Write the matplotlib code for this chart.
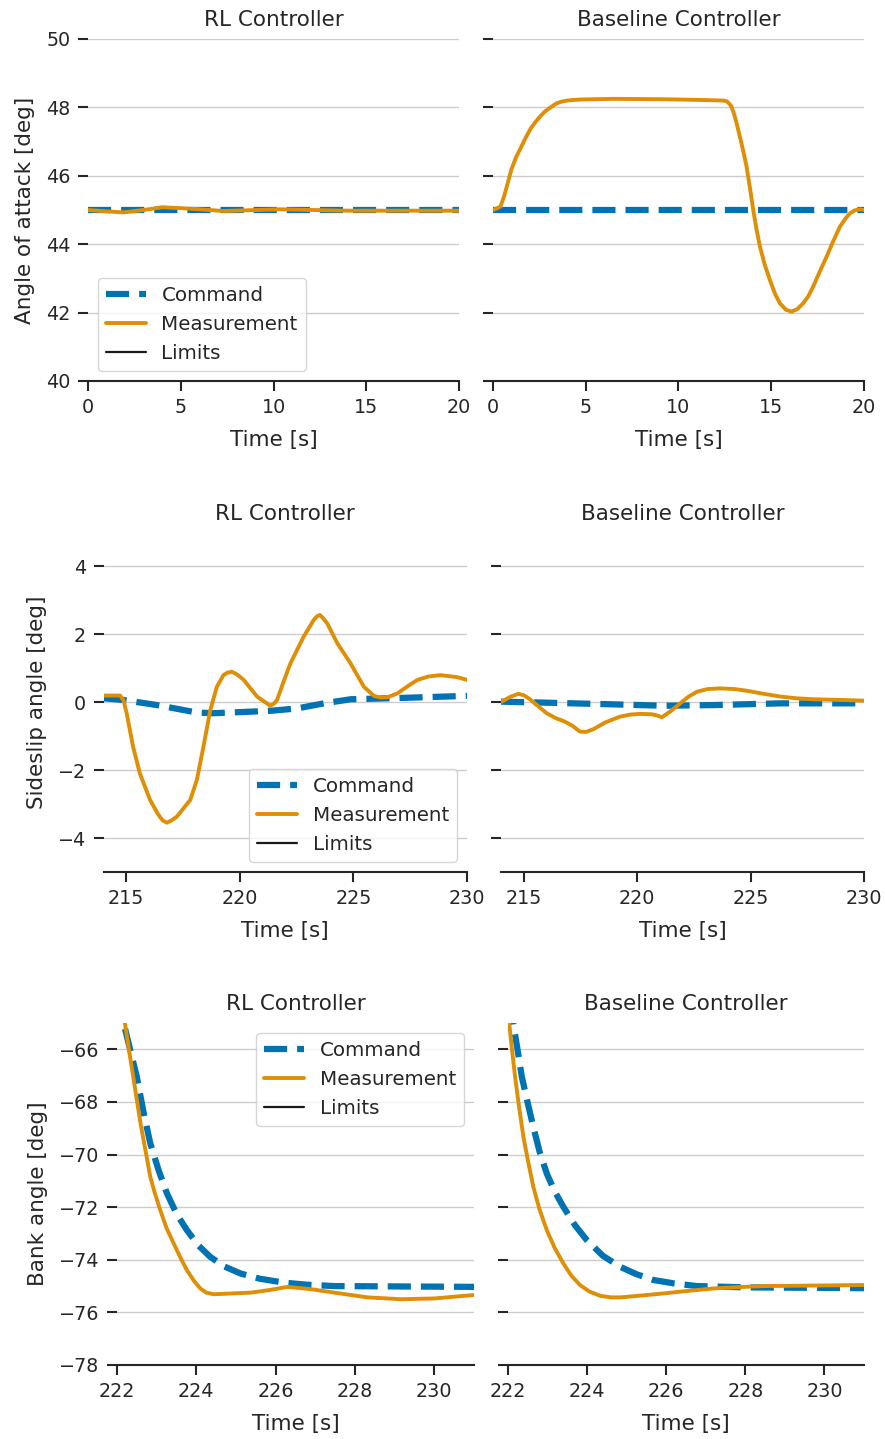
import matplotlib
matplotlib.use('Agg')
import matplotlib.pyplot as plt
import seaborn as sns

sns.set_theme(style='ticks', palette='colorblind')
plt.rcParams['font.family'] = ['DejaVu Sans']

BLUE = '#0173b2'
ORANGE = '#de8f05'
INK = '#262626'

# --- angle of attack, 0-20 s ---
aoa_cmd_t = [0.0, 20.0]
aoa_cmd = [45.0, 45.0]

aoa_rl_t = [0.0, 1.0, 1.9, 3.0, 4.0, 5.5, 7.3, 10.3, 14.0, 20.0]
aoa_rl = [45.0, 44.96, 44.93, 45.0, 45.08, 45.04, 44.97, 45.02, 44.98, 44.98]

aoa_bl_t = [0.0, 0.1, 0.4, 0.6, 0.8, 1.0, 1.25, 1.5, 1.75, 2.05, 2.3, 2.53,
            2.8, 3.1, 3.43, 3.7, 4.0, 4.4, 4.69, 6.47, 9.0, 11.0, 12.41, 12.6,
            12.75, 12.86, 13.0, 13.15, 13.31, 13.5, 13.67, 13.85, 14.03, 14.2,
            14.39, 14.65, 14.93, 15.2, 15.47, 15.8, 16.1, 16.4, 16.72, 17.0,
            17.26, 17.6, 17.98, 18.35, 18.7, 19.0, 19.24, 19.5, 19.78, 20.0]
aoa_bl = [45.0, 45.02, 45.1, 45.4, 45.8, 46.2, 46.55, 46.82, 47.1, 47.4,
          47.58, 47.73, 47.88, 48.0, 48.12, 48.17, 48.2, 48.22, 48.23, 48.25,
          48.24, 48.22, 48.2, 48.18, 48.1, 48.02, 47.8, 47.5, 47.14, 46.7,
          46.27, 45.65, 45.0, 44.45, 43.93, 43.4, 42.95, 42.55, 42.27, 42.08,
          42.03, 42.1, 42.27, 42.48, 42.76, 43.18, 43.63, 44.1, 44.51, 44.75,
          44.9, 44.99, 45.02, 45.0]

# --- sideslip, 214-230 s ---
beta_rl_cmd_t = [214.0, 214.87, 216.35, 218.11, 218.84, 221.34, 222.52, 223.7,
                 224.87, 226.64, 230.0]
beta_rl_cmd = [0.11, 0.06, -0.09, -0.31, -0.33, -0.26, -0.19, -0.04, 0.08,
               0.11, 0.18]

beta_rl_t = [214.0, 214.73, 214.88, 215.02, 215.3, 215.6, 216.05, 216.4,
             216.6, 216.79, 217.0, 217.23, 217.82, 218.11, 218.4, 218.7,
             218.99, 219.28, 219.45, 219.65, 219.9, 220.17, 220.76, 221.1,
             221.34, 221.5, 221.64, 221.9, 222.23, 222.81, 223.25, 223.4,
             223.52, 223.65, 223.85, 224.29, 224.87, 225.46, 225.9, 226.2,
             226.49, 226.93, 227.4, 227.82, 228.3, 228.84, 229.58, 230.0]
beta_rl = [0.19, 0.19, 0.05, -0.33, -1.31, -2.1, -2.88, -3.3, -3.48, -3.55,
           -3.48, -3.37, -2.88, -2.29, -1.31, -0.24, 0.45, 0.79, 0.86, 0.89,
           0.8, 0.65, 0.16, 0.0, -0.11, -0.05, 0.06, 0.55, 1.14, 1.92, 2.41,
           2.52, 2.56, 2.48, 2.31, 1.73, 1.14, 0.45, 0.18, 0.13, 0.14, 0.25,
           0.47, 0.65, 0.75, 0.79, 0.73, 0.65]

beta_bl_cmd_t = [214.0, 216.0, 219.0, 221.2, 223.4, 226.3, 230.0]
beta_bl_cmd = [0.01, -0.02, -0.07, -0.11, -0.09, -0.04, -0.04]

beta_bl_t = [214.03, 214.4, 214.76, 215.0, 215.28, 215.6, 216.01, 216.4,
             216.82, 217.15, 217.48, 217.75, 218.07, 218.6, 219.25, 219.7,
             220.13, 220.64, 220.9, 221.09, 221.5, 221.9, 222.25, 222.63,
             223.1, 223.66, 224.3, 224.84, 225.5, 226.31, 227.0, 227.78,
             229.0, 230.0]
beta_bl = [0.01, 0.15, 0.24, 0.2, 0.08, -0.1, -0.33, -0.47, -0.58, -0.7,
           -0.87, -0.88, -0.8, -0.6, -0.43, -0.37, -0.35, -0.36, -0.4, -0.45,
           -0.26, -0.04, 0.15, 0.3, 0.38, 0.4, 0.38, 0.33, 0.25, 0.16, 0.11,
           0.08, 0.06, 0.04]

# --- bank angle, 222-231 s ---
phi_rl_cmd_t = [222.0, 222.16, 222.33, 222.5, 222.67, 222.84, 223.05, 223.26,
                223.5, 223.76, 224.05, 224.35, 224.7, 225.11, 225.6, 226.21,
                226.8, 227.48, 231.0]
phi_rl_cmd = [-64.0, -64.96, -66.0, -67.05, -68.4, -69.58, -70.6, -71.48,
              -72.25, -72.87, -73.45, -73.89, -74.25, -74.52, -74.72, -74.87,
              -74.95, -75.0, -75.03]

phi_rl_t = [222.0, 222.2, 222.3, 222.41, 222.58, 222.7, 222.84, 222.95,
            223.09, 223.25, 223.43, 223.6, 223.76, 223.93, 224.1, 224.25,
            224.44, 224.9, 225.37, 225.85, 226.3, 226.9, 227.48, 228.32,
            229.16, 230.0, 231.0]
phi_rl = [-63.0, -65.02, -66.0, -67.05, -68.7, -69.7, -70.85, -71.45, -72.11,
          -72.8, -73.38, -73.92, -74.39, -74.78, -75.09, -75.25, -75.31,
          -75.28, -75.25, -75.15, -75.03, -75.12, -75.25, -75.43, -75.5,
          -75.47, -75.34]

phi_bl_cmd_t = [222.0, 222.13, 222.24, 222.35, 222.5, 222.64, 222.8, 222.98,
                223.18, 223.4, 223.7, 223.99, 224.4, 224.84, 225.25, 225.68,
                226.2, 226.78, 228.04, 231.0]
phi_bl_cmd = [-64.2, -65.0, -66.0, -67.05, -68.05, -68.95, -69.9, -70.72,
              -71.4, -71.99, -72.7, -73.25, -73.85, -74.27, -74.55, -74.77,
              -74.9, -75.0, -75.05, -75.08]

phi_bl_t = [222.0, 222.03, 222.1, 222.18, 222.28, 222.39, 222.5, 222.64,
            222.8, 222.98, 223.18, 223.4, 223.6, 223.82, 224.05, 224.33,
            224.6, 224.84, 225.3, 225.93, 226.5, 227.2, 227.8, 228.46,
            229.73, 231.0]
phi_bl = [-64.5, -65.0, -66.0, -67.05, -68.2, -69.33, -70.2, -71.23, -72.1,
          -72.87, -73.55, -74.14, -74.6, -74.96, -75.2, -75.37, -75.43,
          -75.43, -75.37, -75.28, -75.19, -75.09, -75.04, -75.0, -74.98,
          -74.96]

W, H = 885, 1439
fig = plt.figure(figsize=(W / 100, H / 100), dpi=100)


def px_axes(x0, x1, y0, y1):
    return fig.add_axes([x0 / W, 1 - y1 / H, (x1 - x0) / W, (y1 - y0) / H])


def draw(ax, cmd_t, cmd, t, meas):
    ax.plot(cmd_t, cmd, color=BLUE, lw=4.5, ls='--', label='Command')
    ax.plot(t, meas, color=ORANGE, lw=2.8, label='Measurement')
    ax.plot([], [], color='k', lw=1.6, label='Limits')


def style(ax, xlim, xticks, ylim, yticks, title, ylabel=None):
    ax.set_xlim(xlim)
    ax.set_ylim(ylim)
    ax.set_xticks(xticks)
    ax.set_yticks(yticks)
    ax.grid(axis='y', color='#cccccc', lw=1.0)
    ax.grid(axis='x', visible=False)
    sns.despine(ax=ax, left=True)
    ax.spines['bottom'].set_linewidth(1.5)
    ax.spines['bottom'].set_color(INK)
    ax.tick_params(length=7.5, width=1.5, labelsize=13.75, colors=INK, pad=5)
    ax.set_title(title, fontsize=15.5, color=INK, pad=9)
    ax.set_xlabel('Time [s]', fontsize=15.5, color=INK, labelpad=9)
    if ylabel:
        ax.set_ylabel(ylabel, fontsize=15.5, color=INK, labelpad=8)
    else:
        ax.tick_params(labelleft=False)


leg_kw = dict(fontsize=14.3, frameon=True)

# row 1: angle of attack
ax = px_axes(88, 459, 39, 381)
draw(ax, aoa_cmd_t, aoa_cmd, aoa_rl_t, aoa_rl)
style(ax, (0, 20), [0, 5, 10, 15, 20], (40, 50), [40, 42, 44, 46, 48, 50],
      'RL Controller', 'Angle of attack [deg]')
ax.legend(loc='lower left', **leg_kw)

ax = px_axes(493, 864, 39, 381)
draw(ax, aoa_cmd_t, aoa_cmd, aoa_bl_t, aoa_bl)
style(ax, (0, 20), [0, 5, 10, 15, 20], (40, 50), [40, 42, 44, 46, 48, 50],
      'Baseline Controller')

# row 2: sideslip
ax = px_axes(103.5, 467, 532, 872)
draw(ax, beta_rl_cmd_t, beta_rl_cmd, beta_rl_t, beta_rl)
style(ax, (214, 230), [215, 220, 225, 230], (-5, 5), [-4, -2, 0, 2, 4],
      'RL Controller', 'Sideslip angle [deg]')
ax.legend(loc='lower right', **leg_kw)

ax = px_axes(501, 864, 532, 872)
draw(ax, beta_bl_cmd_t, beta_bl_cmd, beta_bl_t, beta_bl)
style(ax, (214, 230), [215, 220, 225, 230], (-5, 5), [-4, -2, 0, 2, 4],
      'Baseline Controller')

# row 3: bank angle
ax = px_axes(117, 474, 1023, 1365)
draw(ax, phi_rl_cmd_t, phi_rl_cmd, phi_rl_t, phi_rl)
style(ax, (222, 231), [222, 224, 226, 228, 230], (-78, -65),
      [-78, -76, -74, -72, -70, -68, -66], 'RL Controller', 'Bank angle [deg]')
ax.legend(loc='upper right', **leg_kw)

ax = px_axes(508, 864, 1023, 1365)
draw(ax, phi_bl_cmd_t, phi_bl_cmd, phi_bl_t, phi_bl)
style(ax, (222, 231), [222, 224, 226, 228, 230], (-78, -65),
      [-78, -76, -74, -72, -70, -68, -66], 'Baseline Controller')

fig.savefig('out.png', dpi=100)
